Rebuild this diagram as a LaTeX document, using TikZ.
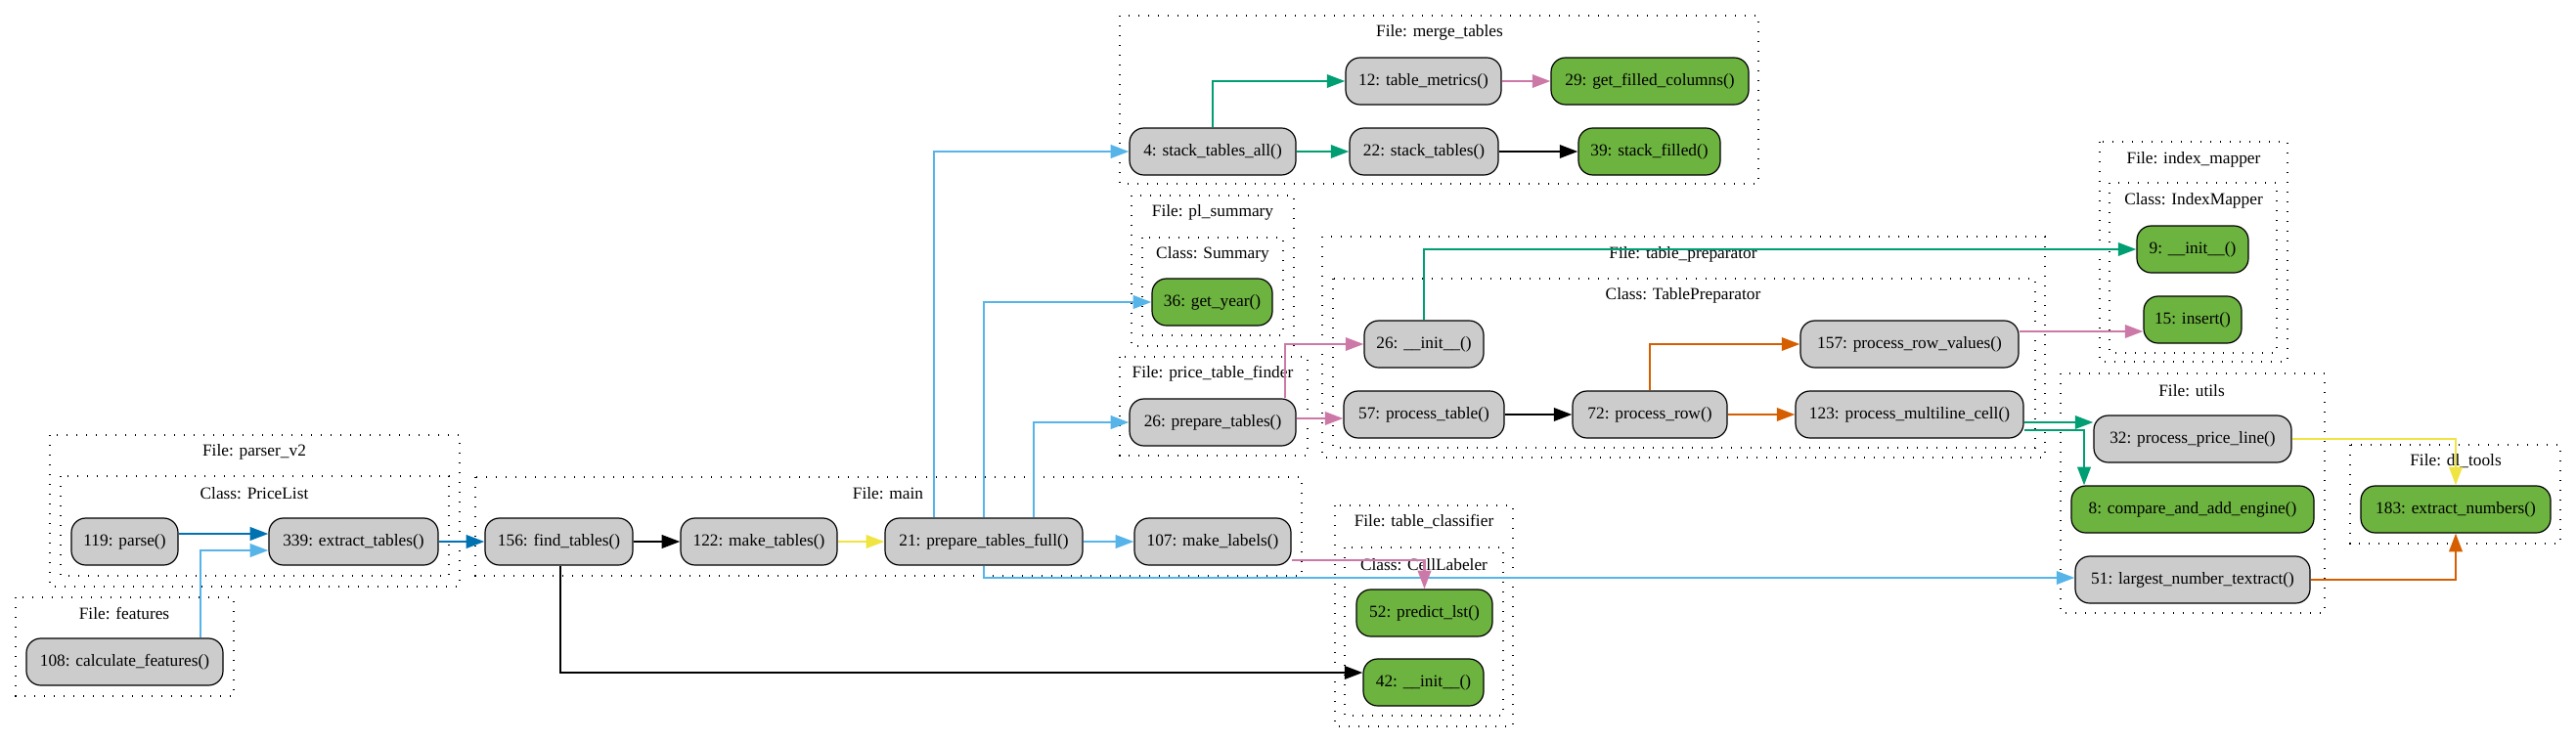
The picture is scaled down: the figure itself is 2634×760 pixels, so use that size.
\documentclass[tikz,border=0pt]{standalone}
\usepackage{fontspec}
\setmainfont{Liberation Serif}
\usetikzlibrary{arrows.meta}
\definecolor{fngray}{HTML}{CCCCCC}
\definecolor{fngreen}{RGB}{109,179,63}
\definecolor{dkblue}{HTML}{0072B2}
\definecolor{ltblue}{HTML}{56B4E9}
\definecolor{cgreen}{HTML}{009E73}
\definecolor{cyellow}{HTML}{F0E442}
\definecolor{cpink}{HTML}{CC79A7}
\definecolor{corange}{HTML}{D55E00}
\tikzset{func/.style={draw,fill=fngray,rounded corners=11pt,minimum height=36pt,inner sep=0pt,line width=0.9pt},
         leaf/.style={func,fill=fngreen},
         wd/.style={minimum width=#1*0.75pt},
         cluster/.style={draw,line width=1pt,dash pattern=on 1pt off 6.5pt},
         call/.style={-{Triangle[length=14pt,width=10pt]},line width=2pt},
        }

\begin{document}
\begin{tikzpicture}[x=0.75pt,y=-0.75pt,font=\rmfamily\fontsize{13}{15}\selectfont]
        \useasboundingbox (0,0) rectangle (2634,760);

        % clusters
        \draw[cluster] (1145,16) rectangle (1798,188);
        \node (lmerge) at (1472,33) {File: merge\_tables};
        \draw[cluster] (1157,200) rectangle (1323,354);
        \node (lsumf) at (1240,217) {File: pl\_summary};
        \draw[cluster] (1168,243) rectangle (1312,343);
        \node (lsumc) at (1240,260) {Class: Summary};
        \draw[cluster] (1145,365) rectangle (1337,466);
        \node (lfinder) at (1240,382) {File: price\_table\_finder};
        \draw[cluster] (1352,242) rectangle (2091,468);
        \node (lprepf) at (1721,260) {File: table\_preparator};
        \draw[cluster] (1363,285) rectangle (2081,458);
        \node (lprepc) at (1721,302) {Class: TablePreparator};
        \draw[cluster] (2147,145) rectangle (2339,370);
        \node (lmapf) at (2243,163) {File: index\_mapper};
        \draw[cluster] (2157,187) rectangle (2328,361);
        \node (lmapc) at (2243,205) {Class: IndexMapper};
        \draw[cluster] (2107,382) rectangle (2377,627);
        \node (lutils) at (2241,400) {File: utils};
        \draw[cluster] (2403,455) rectangle (2618,556);
        \node (ldl) at (2511,472) {File: dl\_tools};
        \draw[cluster] (51,445) rectangle (470,600);
        \node (lparsf) at (260,462) {File: parser\_v2};
        \draw[cluster] (62,487) rectangle (459,589);
        \node (lparsc) at (260,505) {Class: PriceList};
        \draw[cluster] (16,611) rectangle (239,712);
        \node (lfeat) at (127,628) {File: features};
        \draw[cluster] (486,488) rectangle (1331,589);
        \node (lmain) at (908,505) {File: main};
        \draw[cluster] (1365,517) rectangle (1547,743);
        \node (lclsf) at (1456,534) {File: table\_classifier};
        \draw[cluster] (1375,560) rectangle (1537,732);
        \node (lclsc) at (1456,578) {Class: CellLabeler};

        % functions
        \node[func,wd=109](parse)at(127.5,554){119: parse()};
        \node[func,wd=173](extr)at(361.5,554){339: extract\_tables()};
        \node[func,wd=201](calcf)at(127.5,677){108: calculate\_features()};
        \node[func,wd=151](findt)at(571.5,554){156: find\_tables()};
        \node[func,wd=160](maket)at(776,554){122: make\_tables()};
        \node[func,wd=202](prepf)at(1006,554){21: prepare\_tables\_full()};
        \node[func,wd=160](makel)at(1240,554){107: make\_labels()};
        \node[func,wd=170](stacka)at(1240,155){4: stack\_tables\_all()};
        \node[func,wd=159](tmetr)at(1455.5,83){12: table\_metrics()};
        \node[leaf,wd=202](gfill)at(1687,83){29: get\_filled\_columns()};
        \node[func,wd=152](stackt)at(1456,155){22: stack\_tables()};
        \node[leaf,wd=145](sfill)at(1686.5,155){39: stack\_filled()};
        \node[leaf,wd=123](gyear)at(1239.5,309){36: get\_year()};
        \node[func,wd=170](prept)at(1240,432){26: prepare\_tables()};
        \node[func,wd=122](tinit)at(1456,352){26: \_\_init\_\_()};
        \node[func,wd=164](proct)at(1456,424){57: process\_table()};
        \node[func,wd=158](prow)at(1687,424){72: process\_row()};
        \node[func,wd=223](prowv)at(1952.5,352){157: process\_row\_values()};
        \node[func,wd=233](pmulti)at(1952.5,424){123: process\_multiline\_cell()};
        \node[leaf,wd=114](minit)at(2242,255){9: \_\_init\_\_()};
        \node[leaf,wd=100](minsert)at(2242,327){15: insert()};
        \node[func,wd=202](pline)at(2242,449){32: process\_price\_line()};
        \node[leaf,wd=248](cmpe)at(2242,521){8: compare\_and\_add\_engine()};
        \node[func,wd=240](lnum)at(2242,593){51: largest\_number\_textract()};
        \node[leaf,wd=194](exnum)at(2511,521){183: extract\_numbers()};
        \node[leaf,wd=139](plst)at(1456.5,627){52: predict\_lst()};
        \node[leaf,wd=123](cinit)at(1455.5,698){42: \_\_init\_\_()};

        % calls
        \draw[call,dkblue]([yshift=6pt]parse.east)--([yshift=6pt]extr.west);
        \draw[call,ltblue]([xshift=58pt]calcf.north)|-([yshift=-6.75pt]extr.west);
        \draw[call,dkblue](extr)--(findt);
        \draw[call](findt)--(maket);
        \draw[call,cyellow](maket)--(prepf);
        \draw[call,ltblue](prepf)--(makel);
        \draw[call,ltblue]([xshift=-38.25pt]prepf.north)|-(stacka.west);
        \draw[call,ltblue](prepf.north)|-(gyear.west);
        \draw[call,ltblue]([xshift=38.25pt]prepf.north)|-(prept.west);
        \draw[call,ltblue](prepf.south)|-([yshift=1.5pt]lnum.west);
        \draw[call]([xshift=1pt]findt.south)|-([yshift=7.5pt]cinit.west);
        \draw[call,cpink]([yshift=-14.25pt]makel.east)-|(plst.north);

        \draw[call,cgreen](stacka.north)|-(tmetr.west);
        \draw[call,cgreen](stacka)--(stackt);
        \draw[call,cpink](tmetr)--(gfill);
        \draw[call](stackt)--(sfill);

        \draw[call,cpink]([xshift=55.5pt]prept.north)|-(tinit.west);
        \draw[call,cpink]([yshift=3pt]prept.east)--([yshift=-3pt]proct.west);
        \draw[call,cgreen](tinit.north)|-(minit.west);
        \draw[call](proct)--(prow);
        \draw[call,corange](prow.north)|-(prowv.west);
        \draw[call,corange](prow)--(pmulti);
        \draw[call,cpink]([yshift=9.75pt]prowv.east)--([yshift=-9pt]minsert.west);
        \draw[call,cgreen]([yshift=-6pt]pmulti.east)--([yshift=12.75pt]pline.west);
        \draw[call,cgreen]([yshift=-12pt]pmulti.east)-|([xshift=-83.25pt]cmpe.north);

        \draw[call,cyellow](pline.east)-|(exnum.north);
        \draw[call,corange](lnum.east)-|(exnum.south);
    \end{tikzpicture}
\end{document}
